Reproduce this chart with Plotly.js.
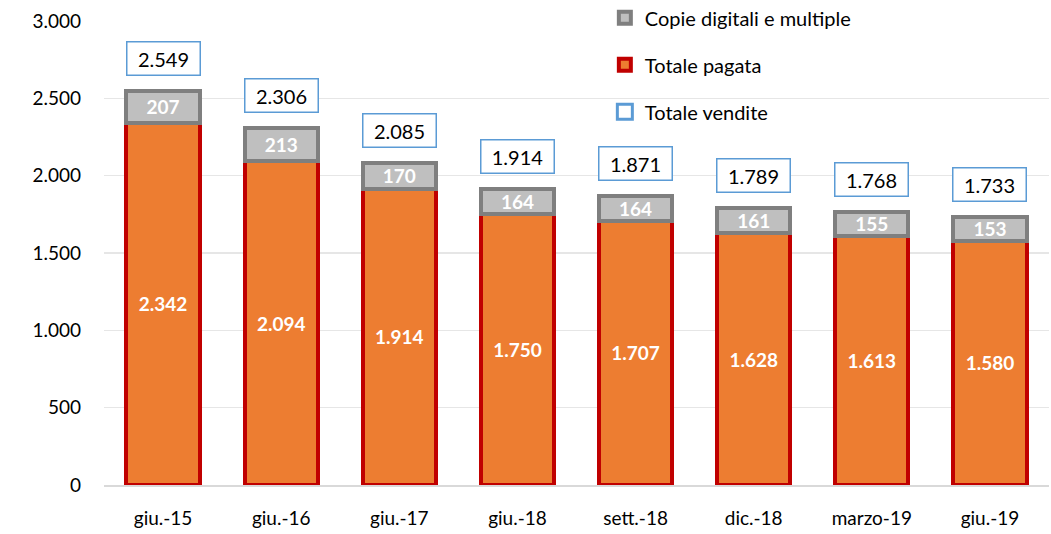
<!DOCTYPE html>
<html><head><meta charset="utf-8">
<script src="https://cdn.plot.ly/plotly-3.0.1.min.js"></script>
<style>html,body{margin:0;padding:0;background:#fff}#chart{width:1051px;height:534px}</style>
</head><body><div id="chart"></div>
<script>
const categories = ["giu.-15","giu.-16","giu.-17","giu.-18","sett.-18","dic.-18","marzo-19","giu.-19"];
const totalePagata = [2342,2094,1914,1750,1707,1628,1613,1580];
const copieDigitali = [207,213,170,164,164,161,155,153];
const totaleVendite = [2549,2306,2085,1914,1871,1789,1768,1733];

function fmt(n){ return String(n).replace(/\B(?=(\d{3})+(?!\d))/g, "."); }
const FONT = "Lato, 'Open Sans', sans-serif";

const traces = [
  {type:'bar', name:'Totale pagata', x:categories, y:totalePagata, width:0.62,
   marker:{color:'#ed7d31', line:{color:'#c00000', width:4}},
   text:totalePagata.map(fmt), textposition:'inside', insidetextanchor:'middle', constraintext:'none',
   textfont:{color:'#ffffff', size:19, family:FONT, weight:'bold'},
   legendrank:2, legendgroup:'b', hoverinfo:'skip'},
  {type:'bar', name:'Copie digitali e multiple', x:categories, y:copieDigitali, width:0.62,
   marker:{color:'#bfbfbf', line:{color:'#7f7f7f', width:4}},
   text:copieDigitali.map(fmt), textposition:'inside', insidetextanchor:'middle', constraintext:'none',
   textfont:{color:'#ffffff', size:19, family:FONT, weight:'bold'},
   legendrank:1, legendgroup:'a', hoverinfo:'skip'},
  {type:'scatter', mode:'markers', name:'Totale vendite', x:categories, y:totaleVendite.map(()=>null),
   marker:{symbol:'square-open', color:'#5b9bd5', size:15, line:{width:3}},
   legendrank:3, legendgroup:'c', hoverinfo:'skip'}
];

const annotations = categories.map((c,i)=>({
  x:c, y:totaleVendite[i], xref:'x', yref:'y', yanchor:'bottom', yshift:15,
  text:fmt(totaleVendite[i]), showarrow:false,
  font:{size:20, color:'#000000', family:FONT},
  bordercolor:'#5b9bd5', borderwidth:1.5, bgcolor:'#ffffff',
  width:70, height:30, borderpad:1
}));

const layout = {
  width:1051, height:534,
  margin:{l:104, r:2, t:21, b:49, autoexpand:false},
  paper_bgcolor:'#ffffff', plot_bgcolor:'#ffffff',
  barmode:'stack', separators:',.',
  font:{family:FONT, color:'#262626', size:19},
  showlegend:true,
  legend:{x:0.53, xanchor:'left', y:1.049, yanchor:'top', traceorder:'grouped',
          tracegroupgap:18, font:{size:20, color:'#000000', family:FONT},
          bgcolor:'rgba(255,255,255,0)', itemwidth:30},
  xaxis:{type:'category', showgrid:false, showline:true, linecolor:'#d9d9d9', linewidth:1.5,
         ticks:'', tickfont:{size:19, color:'#000000'}, ticklabelstandoff:16, fixedrange:true},
  yaxis:{range:[0,3000], dtick:500, tickformat:',d', showgrid:true, gridcolor:'#e6e6e6', gridwidth:1.5,
         zeroline:false, showline:false, ticks:'', tickfont:{size:19, color:'#000000'},
         ticklabelstandoff:22, fixedrange:true},
  annotations:annotations
};
Plotly.newPlot('chart', traces, layout, {displayModeBar:false, staticPlot:true});
</script></body></html>
